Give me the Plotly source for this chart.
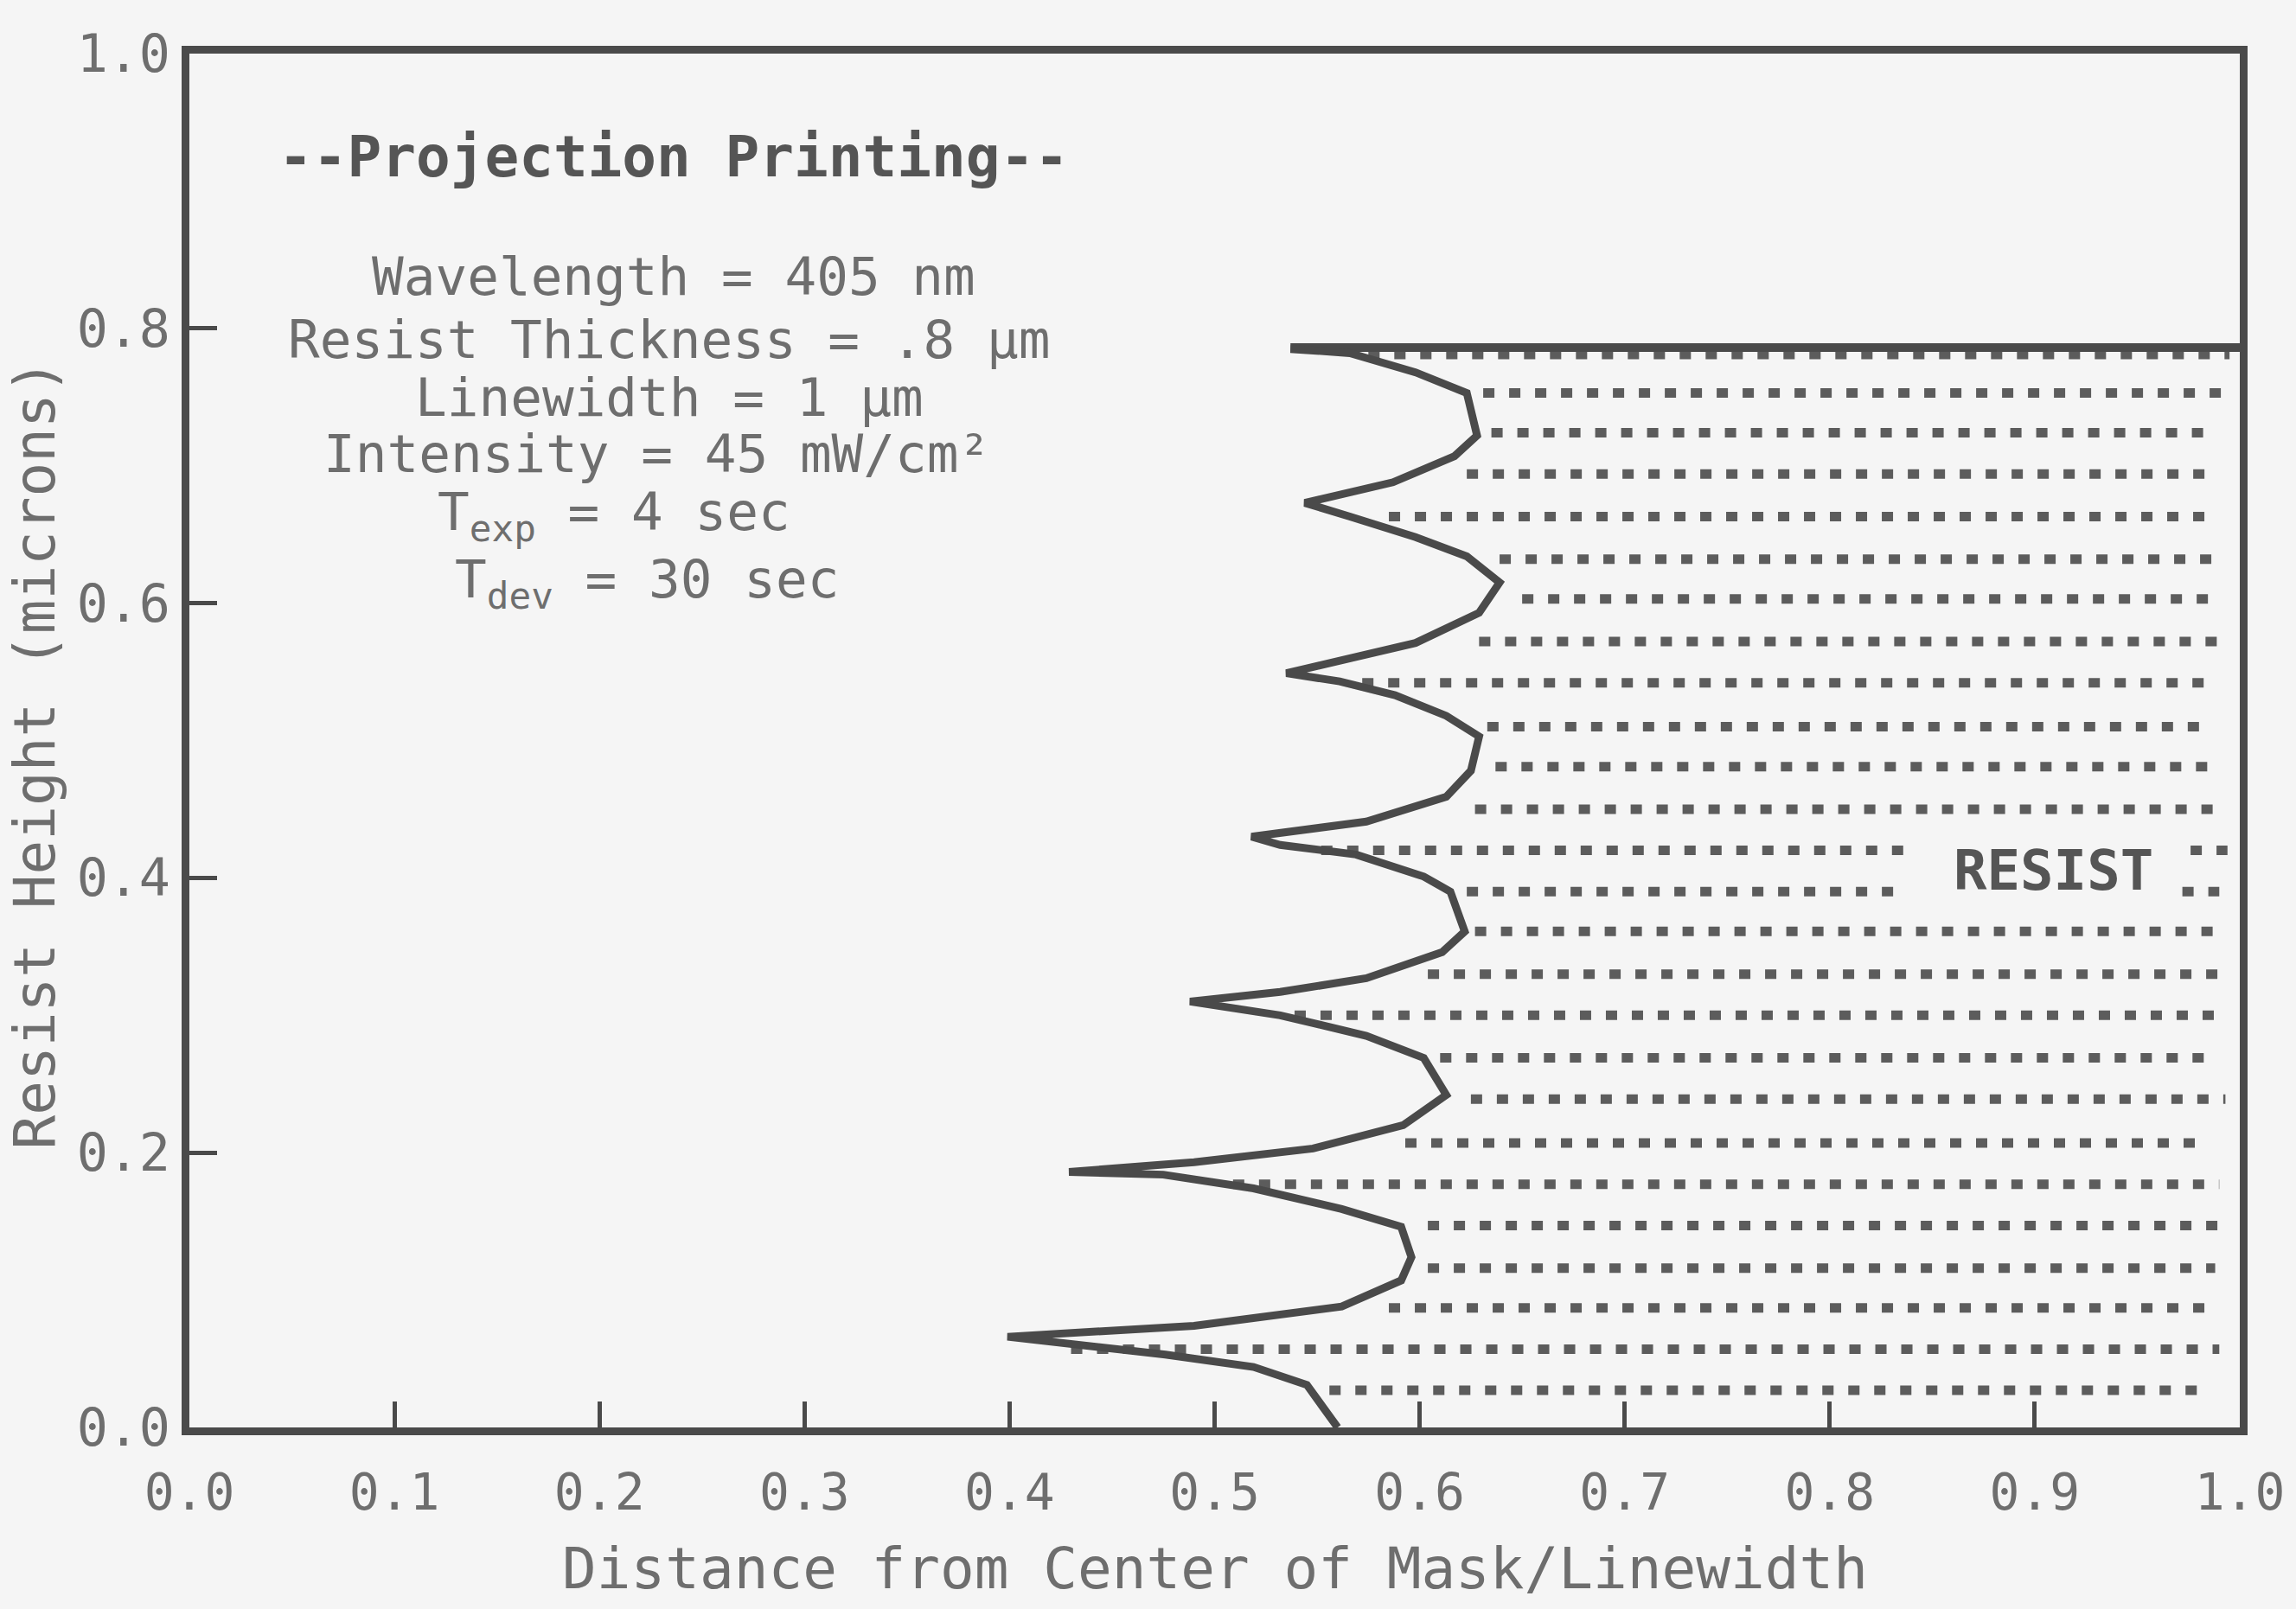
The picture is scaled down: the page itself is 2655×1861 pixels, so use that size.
import plotly.graph_objects as go

# ---- data ----
curve_x = [0.537, 0.566, 0.598, 0.623, 0.628, 0.617, 0.587, 0.544, 0.566, 0.598,
           0.623, 0.639, 0.629, 0.598, 0.535, 0.561, 0.588, 0.613, 0.629, 0.625,
           0.613, 0.574, 0.518, 0.532, 0.569, 0.602, 0.615, 0.622, 0.611, 0.574,
           0.532, 0.488, 0.532, 0.574, 0.602, 0.613, 0.592, 0.548, 0.490, 0.429,
           0.475, 0.519, 0.562, 0.591, 0.596, 0.591, 0.562, 0.490, 0.399, 0.432,
           0.476, 0.519, 0.545, 0.560]
curve_y = [0.785, 0.782, 0.768, 0.753, 0.722, 0.707, 0.688, 0.673, 0.663, 0.648,
           0.634, 0.615, 0.593, 0.571, 0.549, 0.543, 0.533, 0.518, 0.503, 0.478,
           0.459, 0.441, 0.430, 0.424, 0.417, 0.401, 0.390, 0.361, 0.346, 0.327,
           0.317, 0.310, 0.300, 0.285, 0.269, 0.242, 0.220, 0.203, 0.193, 0.186,
           0.184, 0.174, 0.159, 0.146, 0.124, 0.107, 0.088, 0.074, 0.066, 0.061,
           0.053, 0.044, 0.031, 0.000]

top_x = [0.537, 1.0]
top_y = [0.786, 0.786]

row_y = [0.781, 0.753, 0.724, 0.694, 0.663, 0.632, 0.603, 0.572, 0.542, 0.510,
         0.481, 0.450, 0.420, 0.390, 0.361, 0.330, 0.300, 0.269, 0.239, 0.207,
         0.177, 0.147, 0.116, 0.087, 0.057, 0.027]
row_start = [0.575, 0.631, 0.635, 0.623, 0.585, 0.639, 0.650, 0.629, 0.572, 0.633,
             0.637, 0.627, 0.552, 0.623, 0.627, 0.604, 0.539, 0.610, 0.625, 0.593,
             0.509, 0.604, 0.604, 0.585, 0.430, 0.556]
row_end = [0.995, 0.993, 0.987, 0.987, 0.985, 0.990, 0.990, 0.993, 0.987, 0.984,
           0.990, 0.993, 0.841, 0.837, 0.990, 0.993, 0.990, 0.985, 0.993, 0.985,
           0.990, 0.990, 0.988, 0.988, 0.990, 0.985]
# short dot runs right of the RESIST label
extra_y = [0.420, 0.390]
extra_start = [0.976, 0.972]
extra_end = [0.994, 0.990]

x_ticks = [0.0, 0.1, 0.2, 0.3, 0.4, 0.5, 0.6, 0.7, 0.8, 0.9, 1.0]
x_ticktext = ["0.0", "0.1", "0.2", "0.3", "0.4", "0.5", "0.6", "0.7", "0.8", "0.9", "1.0"]
y_ticks = [0.0, 0.2, 0.4, 0.6, 0.8, 1.0]
y_ticktext = ["0.0", "0.2", "0.4", "0.6", "0.8", "1.0"]

info_lines = ["Wavelength = 405 nm", "Resist Thickness = .8 µm", "Linewidth = 1 µm",
              "Intensity = 45 mW/cm²", "T<sub>exp</sub> = 4 sec", "T<sub>dev</sub> = 30 sec"]
info_x = [0.236, 0.234, 0.234, 0.228, 0.207, 0.223]
info_y = [0.838, 0.792, 0.750, 0.709, 0.664, 0.615]

# ---- styling ----
MONO = "DejaVu Sans Mono"
INK = "#4a4a4a"
DOT = "#5c5c5c"
TXT = "#6e6e6e"
BG = "#f5f5f5"

fig = go.Figure()

for y, s, e in zip(row_y + extra_y, row_start + extra_start, row_end + extra_end):
    fig.add_trace(go.Scatter(x=[s, e], y=[y, y], mode="lines",
                             line=dict(color=DOT, width=11, dash="13px,17px"),
                             hoverinfo="skip", showlegend=False))

fig.add_trace(go.Scatter(x=top_x, y=top_y, mode="lines",
                         line=dict(color=INK, width=10), showlegend=False))
fig.add_trace(go.Scatter(x=curve_x, y=curve_y, mode="lines",
                         line=dict(color=INK, width=9), showlegend=False))

def ann(text, x, y, size, color, xref="paper", yref="paper", angle=0):
    return dict(text=text, x=x, y=y, xref=xref, yref=yref, xanchor="center",
                yanchor="middle", textangle=angle, showarrow=False,
                font=dict(family=MONO, size=size, color=color))

annotations = [
    ann("<b>--Projection Printing--</b>", 0.236, 0.925, 66, "#555555"),
    ann("<b>RESIST</b>", 0.909, 0.405, 64, "#555555", "x", "y"),
    ann("Distance from Center of Mask/Linewidth", 0.5, -0.103, 66, TXT),
    ann("Resist Height (microns)", -0.0755, 0.49, 66, TXT, angle=-90),
]
for t, x, y in zip(info_lines, info_x, info_y):
    annotations.append(ann(t, x, y, 61, TXT))

fig.update_layout(
    width=2655, height=1861,
    margin=dict(l=219, r=65, t=62, b=210),
    paper_bgcolor=BG, plot_bgcolor=BG,
    annotations=annotations,
    showlegend=False,
)
fig.update_xaxes(range=[0, 1], tickvals=x_ticks, ticktext=x_ticktext,
                 ticks="inside", ticklen=30, tickwidth=5, tickcolor=INK,
                 showline=True, mirror=True, linewidth=9, linecolor=INK,
                 showgrid=False, zeroline=False, ticklabelstandoff=16,
                 tickfont=dict(family=MONO, size=58, color=TXT))
fig.update_yaxes(range=[0, 1], tickvals=y_ticks, ticktext=y_ticktext,
                 ticks="inside", ticklen=32, tickwidth=5, tickcolor=INK,
                 showline=True, mirror=True, linewidth=9, linecolor=INK,
                 showgrid=False, zeroline=False, ticklabelstandoff=1,
                 tickfont=dict(family=MONO, size=60, color=TXT))

fig.write_html("out.html")
